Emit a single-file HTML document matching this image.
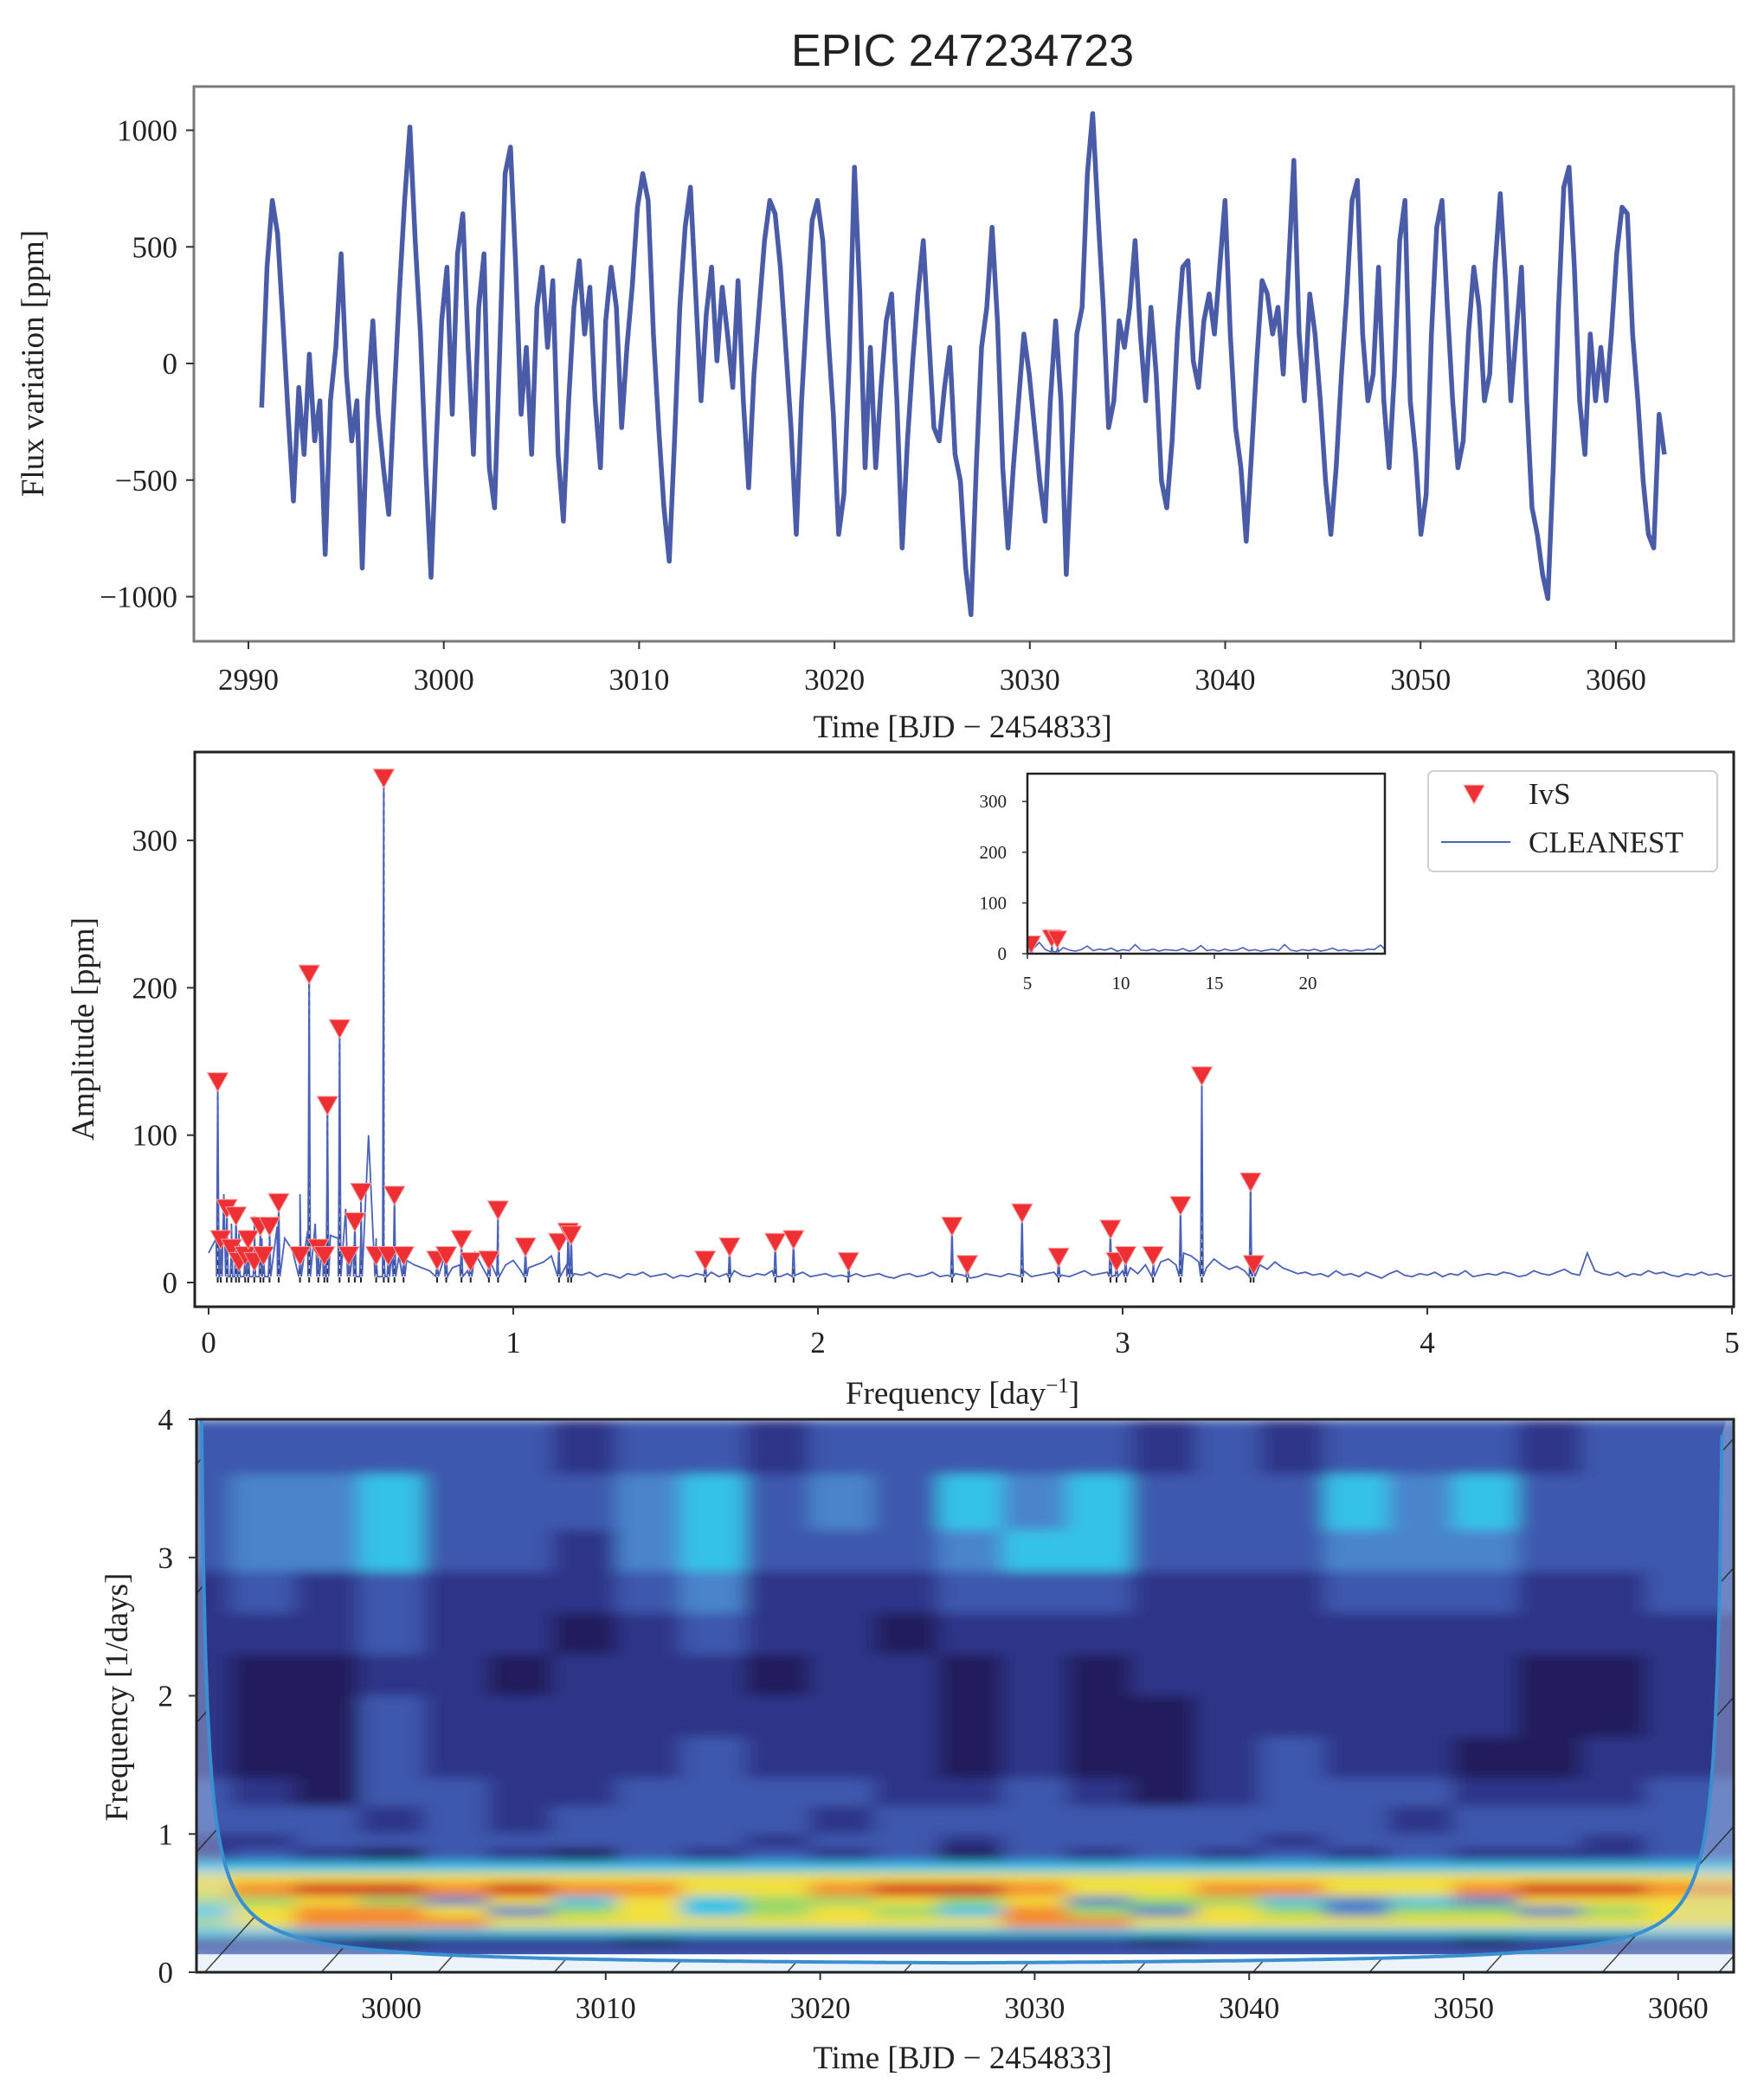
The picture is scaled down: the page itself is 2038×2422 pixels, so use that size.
<!DOCTYPE html>
<html><head><meta charset="utf-8"><style>
html,body{margin:0;padding:0;background:#fff;}
svg{display:block;}
text{font-family:"Liberation Serif",serif;fill:#222;}
</style></head><body>
<svg id="fig" width="2038" height="2422" viewBox="0 0 2038 2422" xmlns="http://www.w3.org/2000/svg">
<defs>
<clipPath id="c1"><rect x="224" y="100" width="1779" height="641"/></clipPath>
<clipPath id="c2"><rect x="225" y="869" width="1778" height="641"/></clipPath>
<clipPath id="c2i"><rect x="1187" y="894" width="413" height="208"/></clipPath>
<clipPath id="c3"><rect x="227" y="1640" width="1776" height="639"/></clipPath>
<filter id="blur" x="0" y="0" width="1" height="1"><feGaussianBlur stdDeviation="12 6" edgeMode="duplicate"/></filter>
<pattern id="hatch" width="100" height="100" patternUnits="userSpaceOnUse" patternTransform="rotate(42)"><line x1="0" y1="0" x2="0" y2="100" stroke="#222" stroke-width="3"/></pattern>
</defs>
<text x="1112" y="76" text-anchor="middle" style="font-family:'Liberation Sans',sans-serif;font-size:52px">EPIC 247234723</text>
<g id="p1"></g><g id="p2"></g><g id="p3"></g>
</svg>
<script>
// ---------- Data: light curve ----------
const lcTimeStart = 2990.68;
const lcTimeEnd = 3062.48;
const lcFlux = [-189,413,699,556,183,-218,-590,-103,-390,40,-332,-160,-819,-160,69,470,-46,-332,-160,-877,-160,183,-218,-447,-647,-160,298,699,1014,527,126,-447,-917,-332,183,413,-218,470,642,69,-390,241,470,-447,-619,69,814,928,413,-218,69,-390,241,413,69,355,-390,-676,-160,241,441,126,327,-160,-447,183,413,241,-275,69,327,670,814,699,126,-275,-619,-848,-332,241,584,756,298,-160,212,413,11,327,126,-103,355,-160,-533,-46,241,527,699,642,413,69,-275,-733,-160,241,613,699,527,126,-218,-733,-562,11,842,298,-447,69,-447,-103,183,298,-160,-791,-332,11,298,527,126,-275,-332,-103,69,-390,-504,-877,-1077,-447,69,241,584,183,-447,-791,-447,-160,126,-46,-275,-504,-676,-160,183,-160,-905,-390,126,241,814,1072,642,241,-275,-160,183,69,241,527,126,-160,241,-46,-504,-619,-332,126,413,441,11,-103,183,298,126,413,699,126,-275,-447,-762,-390,11,355,298,126,241,-46,413,871,126,-160,298,126,-160,-504,-733,-447,-46,298,699,785,126,-160,-46,413,-160,-447,-46,527,699,-160,-390,-733,-562,126,584,699,241,-160,-447,-332,126,413,241,-160,-46,413,728,355,-160,126,413,-160,-619,-733,-905,-1008,-447,241,756,842,413,-160,-390,126,-160,69,-160,126,470,670,642,126,-160,-504,-733,-791,-218,-390];
const lcXTicks = [2990,3000,3010,3020,3030,3040,3050,3060];
const lcYTicks = [-1000,-500,0,500,1000];
// ---------- Data: periodogram ----------
const specStep = 0.025;
const specNoise = [20,30,60,40,35,28,45,30,25,38,30,22,60,35,40,28,32,30,50,25,35,100,30,25,20,18,15,
12,10,8,15,18,10,12,8,20,10,14,9,12,15,8,10,12,14,18,20,12,
6,5,7,4,6,5,3,6,5,7,4,5,6,3,5,4,6,5,7,4,6,8,5,4,6,5,8,4,6,5,7,4,
5,6,4,5,3,6,4,5,6,4,3,5,6,4,5,7,4,5,6,5,3,4,6,5,4,6,5,8,4,5,6,7,5,4,6,8,5,6,7,5,
8,10,6,12,10,14,16,12,20,18,14,10,16,12,9,11,8,10,12,9,14,10,8,6,
7,5,6,4,8,5,6,4,7,5,3,6,8,5,4,6,5,7,4,6,5,8,4,5,6,5,7,6,4,5,8,6,5,7,9,6,5,20,8,6,5,7,4,6,5,8,6,7,5,4,6,5,7,5,6,4,5];
const peakFreq = [0.03,0.04,0.06,0.075,0.09,0.1,0.12,0.13,0.15,0.17,0.18,0.2,0.23,0.3,0.33,0.36,0.38,0.39,0.43,0.46,0.48,0.5,0.55,0.575,0.59,0.61,0.64,0.75,0.78,0.83,0.86,0.92,0.95,1.04,1.15,1.18,1.19,1.63,1.71,1.86,1.92,2.1,2.44,2.49,2.67,2.79,2.96,2.98,3.01,3.1,3.19,3.26,3.42,3.43];
const peakAmp = [136,29,50,23,45,14,18,29,14,38,18,38,54,18,209,23,18,120,172,18,41,61,18,342,18,59,18,15,18,29,14,15,49,24,27,34,32,15,24,27,29,14,38,12,47,17,36,14,18,18,52,140,68,12];
const specXTicks = [0,1,2,3,4,5];
const specYTicks = [0,100,200,300];
const insetStep = 0.32;
const insetNoise = [14,10,22,8,6,9,12,7,5,8,15,6,9,7,11,5,8,6,18,7,6,9,5,8,7,6,10,5,7,16,6,8,5,9,6,7,12,6,8,5,7,9,6,18,7,5,8,6,9,5,7,11,6,8,5,7,6,9,8,17,6];
const insetPeakFreq = [5.2,6.3,6.6];
const insetPeakAmp = [18,30,28];
const insetXTicks = [5,10,15,20];
const insetYTicks = [0,100,200,300];
// ---------- Data: wavelet ----------
const wvTimes = [2991,2994,2997,3000,3003,3006,3009,3012,3015,3018,3021,3024,3027,3030,3033,3036,3039,3042,3045,3048,3051,3054,3057,3060];
const wvFreqLo = [3.6,3.2,2.9,2.6,2.3,2.0,1.7,1.4,1.2,1.0,0.9,0.8,0.72,0.65,0.55,0.48,0.40,0.32,0.26,0.18,0.10];
const wvFreqHi = [4.0,3.6,3.2,2.9,2.6,2.3,2.0,1.7,1.4,1.2,1.0,0.9,0.8,0.72,0.65,0.55,0.48,0.40,0.32,0.26,0.18];
const wvPower = [
[3,3,3,3,3,3,2,3,3,2,3,3,3,3,3,2,3,2,3,3,3,2,3,3],
[3,4,4,5,3,3,3,4,5,3,4,3,5,4,5,3,3,3,5,4,5,3,3,3],
[3,4,4,5,3,3,2,4,5,3,3,3,4,5,5,3,3,3,4,4,4,3,3,3],
[2,3,2,3,2,2,2,3,4,2,2,2,3,3,3,2,2,2,3,3,3,2,2,3],
[2,2,2,3,2,2,1,2,3,2,2,1,2,2,2,2,2,2,2,2,2,2,2,2],
[2,1,1,2,2,1,2,2,2,1,2,2,1,2,1,2,2,2,2,2,2,1,1,2],
[2,1,1,3,2,2,2,2,2,2,2,2,1,2,1,1,2,2,2,2,2,1,1,2],
[2,1,1,3,2,2,2,2,3,2,2,2,1,2,1,1,2,3,2,2,1,1,2,2],
[3,2,1,3,3,2,2,3,3,3,3,2,2,3,2,1,2,3,3,3,2,2,2,3],
[3,3,3,2,3,2,3,3,3,3,2,3,3,3,3,3,3,3,3,2,3,3,3,3],
[2,2,3,3,3,3,3,3,3,2,3,3,2,3,3,3,3,2,3,3,3,3,2,3],
[2,3,2,1,3,2,1,3,2,3,2,3,1,3,2,3,2,3,2,3,2,2,2,3],
[5,5,5,5,5,5,5,5,5,5,5,5,5,5,5,5,5,5,5,5,5,5,5,5],
[7,7,7,7,7,7,7,7,7,7,7,7,7,7,7,7,7,7,7,7,7,7,7,7],
[7,8,9,9,8,9,8,8,7,7,8,9,9,8,7,7,8,8,7,7,8,9,9,8],
[6,6,7,6,4,7,5,7,5,6,6,7,6,7,4,6,6,5,4,5,4,7,7,7],
[5,7,8,8,7,4,6,7,5,6,7,6,5,8,6,4,7,6,4,6,6,4,6,7],
[6,7,8,8,8,7,7,7,7,7,7,7,7,8,8,7,7,7,7,7,7,7,7,7],
[5,5,5,5,5,5,5,5,5,5,5,5,5,5,5,5,5,5,5,5,5,5,5,5],
[2,2,2,1,2,2,2,1,2,2,2,2,2,2,2,1,2,2,2,2,1,2,2,2],
[3,3,3,3,3,3,3,3,3,3,3,3,3,3,3,3,3,3,3,3,3,3,3,3]];
const wvXTicks = [3000,3010,3020,3030,3040,3050,3060];
const wvYTicks = [0,1,2,3,4];
const wvStart = 2990.9, wvEnd = 3062.3;

const NS='http://www.w3.org/2000/svg';
function mk(tag, attrs, parent){const e=document.createElementNS(NS,tag);for(const k in attrs)e.setAttribute(k,attrs[k]);parent.appendChild(e);return e;}
function txt(s, attrs, parent){const e=mk('text',attrs,parent);e.textContent=s;return e;}
const fmt = v => v<0 ? '\u2212'+Math.abs(v) : String(v);

// ================= Panel 1 =================
const p1 = document.getElementById('p1');
const X1 = t => 287 + (t-2990)*22.57;
const Y1 = v => 420 - v*0.2695;
{
  const n = lcFlux.length;
  let d='';
  lcFlux.forEach((v,i)=>{const t=lcTimeStart+i*(lcTimeEnd-lcTimeStart)/(n-1);d+=(i?'L':'M')+X1(t).toFixed(1)+' '+Y1(v).toFixed(1);});
  const g=mk('g',{'clip-path':'url(#c1)'},p1);
  const line=mk('path',{d:d,fill:'none',stroke:'#4a5ca8','stroke-width':5.5,'stroke-linejoin':'round'},g);
  
  
  const fr=mk('rect',{x:224,y:100,width:1779,height:641,fill:'none',stroke:'#7a7a7a','stroke-width':3},p1);
  
  
  lcXTicks.forEach(t=>{const x=X1(t);mk('line',{x1:x,x2:x,y1:741,y2:750,stroke:'#333','stroke-width':2},p1);
    const l=txt(String(t),{x:x,y:797,'text-anchor':'middle','font-size':35},p1);
    
    });
  lcYTicks.forEach(v=>{const y=Y1(v);mk('line',{x1:215,x2:224,y1:y,y2:y,stroke:'#333','stroke-width':2},p1);
    const l=txt(fmt(v),{x:205,y:y+12,'text-anchor':'end','font-size':35},p1);
    
    });
  const xl=txt('Time [BJD \u2212 2454833]',{x:1112,y:852,'text-anchor':'middle','font-size':37},p1);
  
  
  const yl=txt('Flux variation [ppm]',{x:0,y:0,'text-anchor':'middle','font-size':37,transform:'translate(50,420) rotate(-90)'},p1);
  
  
}

// ================= Panel 2 =================
const p2=document.getElementById('p2');
const X2 = f => 241 + f*352;
const Y2 = a => 1482 - a*1.703;
function spectrumPath(noise, step, f0, pf, pa, X, Y){
  const pts=[];
  noise.forEach((v,i)=>pts.push([f0+i*step,v]));
  pf.forEach((f,i)=>{pts.push([f-0.004*(step/0.025),4]);pts.push([f,pa[i]]);pts.push([f+0.004*(step/0.025),4]);});
  pts.sort((a,b)=>a[0]-b[0]);
  return pts.map((p,i)=>(i?'L':'M')+X(p[0]).toFixed(1)+' '+Y(p[1]).toFixed(1)).join('');
}
function tri(x,y,s,parent){
  return mk('path',{d:`M${x-s/2} ${y-s*0.45}L${x+s/2} ${y-s*0.45}L${x} ${y+s*0.45}Z`,fill:'#ee2f33',stroke:'#f6a0a0','stroke-width':1},parent);
}
{
  const g=mk('g',{'clip-path':'url(#c2)'},p2);
  peakFreq.forEach((f,i)=>{const dl=mk('line',{x1:X2(f),x2:X2(f),y1:Y2(0),y2:Y2(peakAmp[i]),stroke:'#222','stroke-width':2,'stroke-dasharray':'6 4'},g);
    
    });
  const sp=mk('path',{d:spectrumPath(specNoise,specStep,0,peakFreq,peakAmp,X2,Y2),fill:'none',stroke:'#4a62b8','stroke-width':1.8},g);
  
  
  peakFreq.forEach((f,i)=>{const m=tri(X2(f),Y2(peakAmp[i]),24,g);
    
    });
  const fr=mk('rect',{x:225,y:869,width:1778,height:641,fill:'none',stroke:'#222','stroke-width':3},p2);
  
  
  specXTicks.forEach(f=>{const x=X2(f);mk('line',{x1:x,x2:x,y1:1510,y2:1519,stroke:'#333','stroke-width':2},p2);
    const l=txt(String(f),{x:x,y:1563,'text-anchor':'middle','font-size':35},p2);
    
    });
  specYTicks.forEach(a=>{const y=Y2(a);mk('line',{x1:216,x2:225,y1:y,y2:y,stroke:'#333','stroke-width':2},p2);
    const l=txt(String(a),{x:205,y:y+12,'text-anchor':'end','font-size':35},p2);
    
    });
  const xl=txt('Frequency [day',{x:1112,y:1622,'text-anchor':'middle','font-size':37},p2);
  const sup=mk('tspan',{'baseline-shift':'super','font-size':25},xl);sup.textContent='\u22121';
  const cl=mk('tspan',{},xl);cl.textContent=']';
  
  
  const yl=txt('Amplitude [ppm]',{x:0,y:0,'text-anchor':'middle','font-size':37,transform:'translate(108,1189) rotate(-90)'},p2);
  
  

  // inset
  const XI=f=>1187+(f-5)*21.6, YI=a=>1102-a*0.586;
  const gi=mk('g',{'clip-path':'url(#c2i)'},p2);
  const isp=mk('path',{d:spectrumPath(insetNoise,insetStep,5,insetPeakFreq,insetPeakAmp,XI,YI),fill:'none',stroke:'#4a62b8','stroke-width':1.6},gi);
  
  
  insetPeakFreq.forEach((f,i)=>{const m=tri(XI(f),YI(insetPeakAmp[i]),22,gi);
    
    });
  const ifr=mk('rect',{x:1187,y:894,width:413,height:208,fill:'none',stroke:'#222','stroke-width':2.5},p2);
  
  
  insetXTicks.forEach(f=>{const x=XI(f);mk('line',{x1:x,x2:x,y1:1102,y2:1108,stroke:'#333','stroke-width':1.5},p2);
    const l=txt(String(f),{x:x,y:1143,'text-anchor':'middle','font-size':21},p2);
    
    });
  insetYTicks.forEach(a=>{const y=YI(a);mk('line',{x1:1181,x2:1187,y1:y,y2:y,stroke:'#333','stroke-width':1.5},p2);
    const l=txt(String(a),{x:1163,y:y+7,'text-anchor':'end','font-size':21},p2);
    
    });

  // legend
  const lg=mk('g',{},p2);
  
  
  mk('rect',{x:1650,y:891,width:334,height:116,rx:6,fill:'#fff',stroke:'#d0d0d0','stroke-width':2},lg);
  const lm=tri(1703,918,24,lg);
  
  
  const t1=txt('IvS',{x:1766,y:929,'font-size':35},lg);
  
  
  const ll=mk('line',{x1:1665,x2:1745,y1:973,y2:973,stroke:'#4a62b8','stroke-width':2},lg);
  
  
  const t2=txt('CLEANEST',{x:1766,y:985,'font-size':35},lg);
  
  
}

// ================= Panel 3 =================
const p3=document.getElementById('p3');
const X3 = t => 452 + (t-3000)*24.78;
const Y3 = f => 2279 - f*159.75;
const cmap=['#170f3c','#211d5c','#2e3488','#3d58ae','#4a84cc','#36c2e8','#9ad86a','#f2e03e','#f58c2e','#d42a20'];
{
  const g=mk('g',{'clip-path':'url(#c3)'},p3);
  const hg=mk('g',{filter:'url(#blur)'},g);
  
  
  mk('rect',{x:227,y:1640,width:1776,height:639,fill:cmap[3]},hg);
  wvPower.forEach((row,r)=>{
    row.forEach((v,c)=>{
      const t0 = c===0 ? wvStart-3 : (wvTimes[c-1]+wvTimes[c])/2;
      const t1 = c===row.length-1 ? wvEnd+3 : (wvTimes[c]+wvTimes[c+1])/2;
      const x0=X3(t0), x1=X3(t1), y0=Y3(wvFreqHi[r]), y1=Y3(wvFreqLo[r]);
      const cell=mk('rect',{x:x0.toFixed(1),y:y0.toFixed(1),width:(x1-x0+0.6).toFixed(1),height:(y1-y0+0.6).toFixed(1),fill:cmap[v]},hg);
      
      
    });
  });
  mk('rect',{x:227,y:Y3(0.13),width:1776,height:Y3(0)-Y3(0.13),fill:'#ffffff'},g);
  let d='M'+X3(wvStart)+' '+Y3(4.2);
  const coi=[];
  for(let t=wvStart+0.24;t<=wvEnd-0.24;t+=0.1){const dt=Math.min(t-wvStart,wvEnd-t);coi.push([t,Math.min(4.2,1/dt+0.04)]);}
  coi.forEach(p=>{d+='L'+X3(p[0]).toFixed(1)+' '+Y3(p[1]).toFixed(1);});
  const out='M227 1640'+d.replace(/^M/,'L')+'L2003 '+Y3(4.2)+'L2003 2279L227 2279Z';
  const sh=mk('path',{d:out,fill:'rgba(200,220,240,0.35)','fill-rule':'evenodd'},g);
  
  
  const hatch=mk('path',{d:'M227 1640L'+X3(wvStart+0.9)+' 1640'+coi.map(p=>'L'+X3(p[0]).toFixed(1)+' '+Y3(p[1]).toFixed(1)).join('')+'L'+X3(wvEnd-0.9)+' 1640L2003 1640L2003 2279L227 2279Z',fill:'url(#hatch)',opacity:0.85},g);
  
  
  const cl=mk('path',{d:d,fill:'none',stroke:'#3a8fd0','stroke-width':4},g);
  
  
  const fr=mk('rect',{x:227,y:1640,width:1776,height:639,fill:'none',stroke:'#222','stroke-width':3},p3);
  
  
  wvXTicks.forEach(t=>{const x=X3(t);mk('line',{x1:x,x2:x,y1:2279,y2:2288,stroke:'#333','stroke-width':2},p3);
    const l=txt(String(t),{x:x,y:2332,'text-anchor':'middle','font-size':35},p3);
    
    });
  wvYTicks.forEach(f=>{const y=Y3(f);mk('line',{x1:218,x2:227,y1:y,y2:y,stroke:'#333','stroke-width':2},p3);
    const l=txt(String(f),{x:200,y:y+12,'text-anchor':'end','font-size':35},p3);
    
    });
  const xl=txt('Time [BJD \u2212 2454833]',{x:1112,y:2390,'text-anchor':'middle','font-size':37},p3);
  
  
  const yl=txt('Frequency [1/days]',{x:0,y:0,'text-anchor':'middle','font-size':37,transform:'translate(147,1961) rotate(-90)'},p3);
  
  
}
</script>
</body></html>
